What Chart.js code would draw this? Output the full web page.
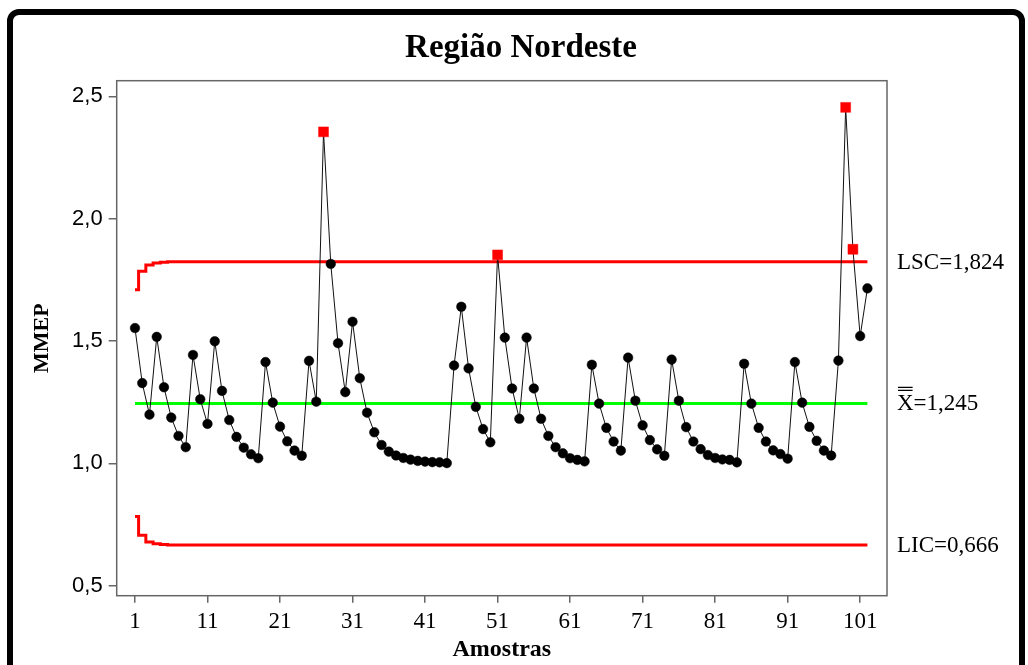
<!DOCTYPE html>
<html>
<head>
<meta charset="utf-8">
<script src="https://cdn.jsdelivr.net/npm/chart.js@4"></script>
<style>
  html, body { margin: 0; padding: 0; background: #fff; }
  #grafico { display: block; }
</style>
</head>
<body>
<canvas id="grafico" width="1028" height="665"></canvas>
<script>
// valores (MMEP por amostra)
var mmep = [
    1.553, 1.328, 1.199, 1.517, 1.311, 1.187, 1.112, 1.066, 1.443, 1.262,
    1.161, 1.499, 1.296, 1.177, 1.108, 1.064, 1.037, 1.021, 1.414, 1.248,
    1.150, 1.090, 1.052, 1.031, 1.419, 1.252, 2.355, 1.815, 1.491, 1.291,
    1.579, 1.348, 1.207, 1.127, 1.075, 1.048, 1.032, 1.022, 1.015, 1.010,
    1.007, 1.005, 1.004, 1.001, 1.400, 1.640, 1.388, 1.231, 1.140, 1.086,
    1.852, 1.514, 1.306, 1.182, 1.514, 1.306, 1.182, 1.112, 1.066, 1.041,
    1.021, 1.014, 1.008, 1.403, 1.244, 1.145, 1.089, 1.052, 1.432, 1.256,
    1.155, 1.095, 1.057, 1.031, 1.424, 1.256, 1.148, 1.089, 1.058, 1.034,
    1.022, 1.016, 1.014, 1.004, 1.407, 1.244, 1.145, 1.089, 1.053, 1.038,
    1.019, 1.414, 1.248, 1.149, 1.092, 1.052, 1.032, 1.420, 2.455, 1.875,
    1.520, 1.715
];
var amostras = mmep.map(function(v, i) { return i + 1; });

// limites de controle (inicio em degraus, depois constante)
var lscInicio = [1.710, 1.785, 1.811, 1.819, 1.822];
var lscValor = 1.824;
var licInicio = [0.783, 0.706, 0.679, 0.671, 0.668];
var licValor = 0.666;
var mediaValor = 1.245;

var titulo = 'Região Nordeste';
var xTicks = [1, 11, 21, 31, 41, 51, 61, 71, 81, 91, 101];
var yTicks = [0.5, 1.0, 1.5, 2.0, 2.5];

var lsc = amostras.map(function(n, i) { return i < lscInicio.length ? lscInicio[i] : lscValor; });
var lic = amostras.map(function(n, i) { return i < licInicio.length ? licInicio[i] : licValor; });
var media = amostras.map(function() { return mediaValor; });

function pontos(valores) {
    return valores.map(function(v, i) { return { x: amostras[i], y: v }; });
}

function fora(ctx) {
    var i = ctx.dataIndex;
    return mmep[i] > lsc[i] || mmep[i] < lic[i];
}

function virgula(v, casas) {
    return v.toFixed(casas).replace('.', ',');
}

var extras = {
    id: 'extras',
    beforeDraw: function(chart) {
        var c = chart.ctx;
        c.save();
        c.fillStyle = '#fff';
        c.fillRect(0, 0, chart.width, chart.height);
        c.restore();
    },
    afterDraw: function(chart) {
        var c = chart.ctx;
        var a = chart.chartArea;
        var y = chart.scales.y;
        c.save();
        // moldura da area do grafico
        c.strokeStyle = '#666';
        c.lineWidth = 1.5;
        c.strokeRect(a.left, a.top, a.right - a.left, a.bottom - a.top);

        // titulo
        c.fillStyle = '#000';
        c.font = 'bold 33px "Liberation Serif"';
        c.textAlign = 'center';
        c.textBaseline = 'alphabetic';
        c.fillText(titulo, 521, 57);

        // rotulos dos limites
        c.font = '23px "Liberation Serif"';
        c.textAlign = 'left';
        var tx = 897;
        c.fillText('LSC=' + virgula(lscValor, 3), tx, y.getPixelForValue(lscValor) + 7);
        var ym = y.getPixelForValue(mediaValor) + 7;
        c.fillText('X=' + virgula(mediaValor, 3), tx, ym);
        var wx = c.measureText('X').width;
        c.strokeStyle = '#000';
        c.lineWidth = 1.2;
        c.beginPath();
        c.moveTo(tx + 1, ym - 23); c.lineTo(tx + wx - 1, ym - 23);
        c.moveTo(tx + 1, ym - 20); c.lineTo(tx + wx - 1, ym - 20);
        c.stroke();
        c.fillText('LIC=' + virgula(licValor, 3), tx, y.getPixelForValue(licValor) + 7);

        // moldura externa
        c.strokeStyle = '#000';
        c.lineWidth = 6;
        c.beginPath();
        c.roundRect(10, 12, 1012, 700, 9);
        c.stroke();
        c.restore();
    }
};

new Chart(document.getElementById('grafico'), {
    type: 'line',
    data: {
        datasets: [
            {
                label: 'MMEP',
                data: pontos(mmep),
                borderColor: '#111',
                borderWidth: 1,
                tension: 0,
                pointStyle: function(ctx) { return fora(ctx) ? 'rect' : 'circle'; },
                pointRadius: function(ctx) { return fora(ctx) ? 7 : 4.8; },
                pointBackgroundColor: function(ctx) { return fora(ctx) ? '#ff0000' : '#000'; },
                pointBorderColor: function(ctx) { return fora(ctx) ? '#ff0000' : '#000'; },
                pointBorderWidth: 0.5,
                order: 0
            },
            {
                label: 'LSC',
                data: pontos(lsc),
                borderColor: '#ff0000',
                borderWidth: 3,
                stepped: 'middle',
                pointRadius: 0,
                order: 1
            },
            {
                label: 'Media',
                data: pontos(media),
                borderColor: '#00ff00',
                borderWidth: 3,
                pointRadius: 0,
                order: 2
            },
            {
                label: 'LIC',
                data: pontos(lic),
                borderColor: '#ff0000',
                borderWidth: 3,
                stepped: 'middle',
                pointRadius: 0,
                order: 3
            }
        ]
    },
    options: {
        responsive: false,
        devicePixelRatio: 1,
        animation: false,
        layout: {
            padding: { left: 0, right: 141, top: 80.7, bottom: 0 }
        },
        plugins: {
            legend: { display: false },
            tooltip: { enabled: false },
            title: { display: false }
        },
        scales: {
            x: {
                type: 'linear',
                min: -1.52,
                max: 104.7,
                afterBuildTicks: function(scale) {
                    scale.ticks = xTicks.map(function(v) { return { value: v }; });
                },
                afterFit: function(scale) { scale.height = 69.3; },
                grid: {
                    display: true,
                    drawOnChartArea: false,
                    drawTicks: true,
                    tickLength: 7,
                    color: '#666',
                    lineWidth: 1.5
                },
                border: { display: false },
                ticks: {
                    color: '#000',
                    padding: 5,
                    maxRotation: 0,
                    autoSkip: false,
                    font: { family: '"Liberation Serif"', size: 23 }
                },
                title: {
                    display: true,
                    text: 'Amostras',
                    color: '#000',
                    font: { family: '"Liberation Serif"', size: 24, weight: 'bold' },
                    padding: { top: 0, bottom: 1 }
                }
            },
            y: {
                min: 0.459,
                max: 2.564,
                afterBuildTicks: function(scale) {
                    scale.ticks = yTicks.map(function(v) { return { value: v }; });
                },
                afterFit: function(scale) { scale.width = 116.7; },
                grid: {
                    display: true,
                    drawOnChartArea: false,
                    drawTicks: true,
                    tickLength: 8,
                    color: '#666',
                    lineWidth: 1.5
                },
                border: { display: false },
                ticks: {
                    color: '#000',
                    padding: 6,
                    autoSkip: false,
                    font: { family: '"Liberation Sans"', size: 22 },
                    callback: function(v) { return virgula(v, 1); }
                },
                title: {
                    display: true,
                    text: 'MMEP',
                    color: '#000',
                    font: { family: '"Liberation Serif"', size: 22, weight: 'bold' },
                    padding: { top: 29, bottom: 0 }
                }
            }
        }
    },
    plugins: [extras]
});
</script>
</body>
</html>
